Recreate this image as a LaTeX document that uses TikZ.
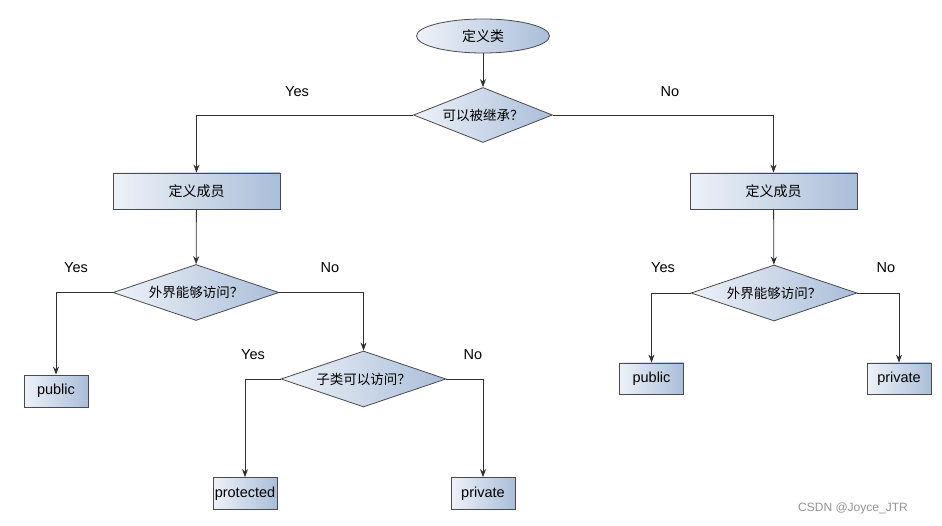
\documentclass[tikz,border=0pt]{standalone}
\usepackage{fontspec}
\setmainfont{Liberation Sans}
\newfontfamily\cjk{Noto Sans CJK SC}
\usetikzlibrary{shapes.geometric,arrows.meta}
\definecolor{lightbl}{HTML}{EEF2F8}
\definecolor{darkbl}{HTML}{AABED9}
\definecolor{edgegr}{HTML}{4A4A4A}
\definecolor{linegr}{HTML}{303030}
\tikzset{
  base/.style={draw=edgegr, line width=0.8pt, left color=lightbl, right color=darkbl, inner sep=0pt},
  procbox/.style={base, rectangle, minimum width=167pt, minimum height=36pt, font=\cjk\fontsize{14}{16}\selectfont},
  endbox/.style={base, rectangle, minimum width=64pt, minimum height=32pt, font=\fontsize{14.5}{16}\selectfont},
  decide/.style={base, diamond, aspect=3, minimum width=166pt, minimum height=56pt, font=\cjk\fontsize{13.5}{15}\selectfont},
  startnode/.style={base, ellipse, minimum width=133pt, minimum height=34pt, font=\cjk\fontsize{14}{16}\selectfont},
  conn/.style={draw=linegr, line width=0.8pt, -{Stealth[length=8pt,width=6pt]}},
  lbl/.style={font=\fontsize{14.5}{16}\selectfont, inner sep=0pt}
}
\begin{document}
\begin{tikzpicture}[x=1pt,y=-1pt]
\useasboundingbox (0,0) rectangle (942,526);
\node[startnode] (start) at (483,36) {定义类};
\node[decide, minimum width=139pt, minimum height=55pt] (inh) at (483,115) {可以被继承？};
\node[procbox] (memL) at (196.5,191) {定义成员};
\node[procbox] (memR) at (773.5,191) {定义成员};
\node[decide] (extL) at (196,292.5) {外界能够访问？};
\node[decide] (extR) at (774,293) {外界能够访问？};
\node[decide, minimum width=165pt] (sub) at (363.5,379) {子类可以访问？};
\node[endbox] (pubL) at (56,391) {public};
\node[endbox] (prot) at (245,493.5) {protected};
\node[endbox] (privL) at (483,493.5) {private};
\node[endbox, minimum height=31pt] (pubR) at (651.5,378.5) {public};
\node[endbox, minimum height=31pt] (privR) at (899,378.5) {private};

\node[lbl] (y1) at (297,92) {Yes};
\node[lbl] (n1) at (670,92) {No};
\node[lbl] (y2) at (76,268) {Yes};
\node[lbl] (n2) at (330,268) {No};
\node[lbl] (y3) at (253,355) {Yes};
\node[lbl] (n3) at (473,355) {No};
\node[lbl] (y4) at (663,268) {Yes};
\node[lbl] (n4) at (886,268) {No};
\node[font=\fontsize{12}{14}\selectfont, text=gray!85, inner sep=0pt] (wm) at (853,508) {CSDN @Joyce\_JTR};

\draw[conn] (start) -- (inh);
\draw[conn] (inh.west) -| (memL.north);
\draw[conn] (inh.east) -| (memR.north);
\draw[conn] (memL) -- (extL);
\draw[conn] (memR) -- (extR);
\draw[conn] (extL.west) -| (pubL.north);
\draw[conn] (extL.east) -| (sub.north);
\draw[conn] (sub.west) -| (prot.north);
\draw[conn] (sub.east) -| (privL.north);
\draw[conn] (extR.west) -| (pubR.north);
\draw[conn] (extR.east) -| (privR.north);
\end{tikzpicture}
\end{document}
